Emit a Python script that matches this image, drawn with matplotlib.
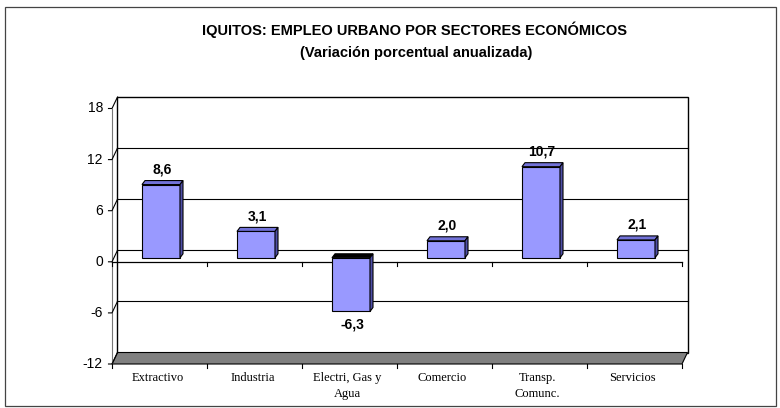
import matplotlib
matplotlib.use('Agg')
import matplotlib.pyplot as plt
import matplotlib.transforms as mtransforms
from matplotlib.patches import Polygon, Rectangle

sectores = ['Extractivo', 'Industria', 'Electri, Gas y\nAgua', 'Comercio', 'Transp.\nComunc.', 'Servicios']
variacion = [8.6, 3.1, -6.3, 2.0, 10.7, 2.1]
etiquetas = ['8,6', '3,1', '-6,3', '2,0', '10,7', '2,1']
yticks = [-12, -6, 0, 6, 12, 18]
ylabels = ['-12', '-6', '0', '6', '12', '18']

titulo = 'IQUITOS: EMPLEO URBANO POR SECTORES ECONÓMICOS'
subtitulo = '(Variación porcentual anualizada)'

plt.rcParams['font.family'] = ['Liberation Sans', 'DejaVu Sans']

fig = plt.figure(figsize=(7.8, 4.08), dpi=100)
ax = fig.add_axes([112/780, 44/408, 570/780, 255.5/408])
ax.set_xlim(0, 6); ax.set_ylim(-12, 18)
ax.axis('off')

# fake 3d: offsets in pixels (x right, y up)
DX, DY = 5.5, 11.5      # back wall
BF = (1.5, 4.0)         # front face of bars
BB = (4.5, 8.0)         # back face of bars

back = mtransforms.offset_copy(ax.transData, fig=fig, x=DX, y=DY, units='dots')
barfront = mtransforms.offset_copy(ax.transData, fig=fig, x=BF[0], y=BF[1], units='dots')

def px(x, y, off=(0, 0)):
    X, Y = ax.transData.transform((x, y))
    return (X + off[0], Y + off[1])

def poly(pts, z, **kw):
    p = Polygon(pts, closed=True, transform=mtransforms.IdentityTransform(), clip_on=False, zorder=z, **kw)
    ax.add_patch(p)

# back wall + gridlines
ax.add_patch(Rectangle((0, -12), 6, 30, transform=back, fc='white', ec='black', lw=1.0, clip_on=False, zorder=1))
for v in yticks[1:-1]:
    ax.plot([0, 6], [v, v], transform=back, color='black', lw=0.8, clip_on=False, zorder=1.5)

# floor
poly([px(0, -12), px(6, -12), px(6, -12, (DX, DY)), px(0, -12, (DX, DY))], 2, fc='#808080', ec='black', lw=0.8)

# front vertical axis, diagonal ticks, labels
ax.plot([0, 0], [-12, 18], color='#777777', lw=0.8, clip_on=False, zorder=2)
for v, lab in zip(yticks, ylabels):
    p0 = px(0, v, (-3.5, 0)); p1 = px(0, v); p2 = px(0, v, (DX, DY))
    ax.plot([p0[0], p1[0], p2[0]], [p0[1], p1[1], p2[1]], transform=mtransforms.IdentityTransform(),
            color='black', lw=0.8, clip_on=False, zorder=2.5)
    ax.text(0, v, lab, transform=mtransforms.offset_copy(ax.transData, fig=fig, x=-9, y=0, units='dots'),
            ha='right', va='center', fontsize=10, color='black')

# front zero line and category ticks
ax.plot([0, 6], [0, 0], color='black', lw=0.9, clip_on=False, zorder=2.5)
for i in range(7):
    for v in (0, -12):
        a = px(i, v); b = px(i, v, (0, -4))
        ax.plot([a[0], b[0]], [a[1], b[1]], transform=mtransforms.IdentityTransform(),
                color='black', lw=0.8, clip_on=False, zorder=2.5)

# bars
xs = [i + 0.5 for i in range(len(variacion))]
w = 0.4
ax.bar(xs, variacion, width=w, color='#9999ff', edgecolor='black', lw=0.8,
       transform=barfront, clip_on=False, zorder=3)
for x, v in zip(xs, variacion):
    x0, x1 = x - w/2, x + w/2
    top = max(v, 0)
    topcol = '#7272d8' if v > 0 else '#000000'
    poly([px(x0, top, BF), px(x1, top, BF), px(x1, top, BB), px(x0, top, BB)], 3, fc=topcol, ec='black', lw=0.8)
    poly([px(x1, 0, BF), px(x1, v, BF), px(x1, v, BB), px(x1, 0, BB)], 3, fc='#4f4fa8', ec='black', lw=0.8)

# data labels
for x, v, lab in zip(xs, variacion, etiquetas):
    dy = 15 if v > 0 else -13
    ax.text(x, v, lab, transform=mtransforms.offset_copy(ax.transData, fig=fig, x=BF[0] + 1, y=BF[1] + dy, units='dots'),
            ha='center', va='center', fontsize=10, fontweight='bold', zorder=4)

# category labels
for x, lab in zip(xs, sectores):
    ax.text(x - 0.02, -12, lab, transform=mtransforms.offset_copy(ax.transData, fig=fig, x=0, y=-8, units='dots'),
            ha='center', va='top', fontsize=9, family='Liberation Serif', linespacing=1.45)

# titles
fig.text(415/780, 1 - 30/408, titulo, ha='center', va='center', fontsize=10.5, fontweight='bold')
fig.text(416/780, 1 - 53/408, subtitulo, ha='center', va='center', fontsize=10.5, fontweight='bold')

# outer frame
fig.add_artist(Rectangle((5/780, 2/408), 771/780, 399/408, transform=fig.transFigure,
                         fill=False, ec='#444444', lw=0.9))

fig.savefig('out.png', dpi=100)
